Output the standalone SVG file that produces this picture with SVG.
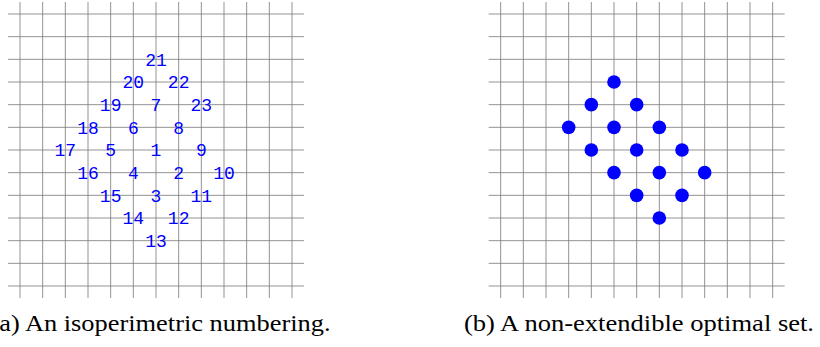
<svg xmlns="http://www.w3.org/2000/svg" width="820" height="347" viewBox="0 0 820 347">
<style>
.grid{stroke:#7f7f7f;stroke-width:0.85;fill:none}
.lbl{font-family:"Liberation Mono","DejaVu Sans Mono",monospace;font-size:18px;fill:#0000ff;text-anchor:middle}
.dot{fill:#0000ff}
.cap{font-family:"Liberation Serif","DejaVu Serif",serif;font-size:23px;fill:#000}
</style>
<rect width="820" height="347" fill="#fff"/>
<g id="grid-a" class="grid">
<path d="M20,2V298M42.67,2V298M65.33,2V298M88,2V298M110.67,2V298M133.33,2V298M156,2V298M178.67,2V298M201.33,2V298M224,2V298M246.67,2V298M269.33,2V298M292,2V298"/>
<path d="M8,14H304M8,36.67H304M8,59.33H304M8,82H304M8,104.67H304M8,127.33H304M8,150H304M8,172.67H304M8,195.33H304M8,218H304M8,240.67H304M8,263.33H304M8,286H304"/>
</g>
<g id="grid-b" class="grid">
<path d="M500.67,2V298M523.33,2V298M546,2V298M568.67,2V298M591.33,2V298M614,2V298M636.67,2V298M659.33,2V298M682,2V298M704.67,2V298M727.33,2V298M750,2V298M772.67,2V298"/>
<path d="M488.67,14H784.67M488.67,36.67H784.67M488.67,59.33H784.67M488.67,82H784.67M488.67,104.67H784.67M488.67,127.33H784.67M488.67,150H784.67M488.67,172.67H784.67M488.67,195.33H784.67M488.67,218H784.67M488.67,240.67H784.67M488.67,263.33H784.67M488.67,286H784.67"/>
</g>
<g id="connectors"></g>
<g id="labels-a">
<g id="n1"><text class="lbl" x="156" y="156.3">1</text></g>
<g id="n2"><text class="lbl" x="178.67" y="179">2</text></g>
<g id="n3"><text class="lbl" x="156" y="201.6">3</text></g>
<g id="n4"><text class="lbl" x="133.33" y="179">4</text></g>
<g id="n5"><text class="lbl" x="110.67" y="156.3">5</text></g>
<g id="n6"><text class="lbl" x="133.33" y="133.6">6</text></g>
<g id="n7"><text class="lbl" x="156" y="111">7</text></g>
<g id="n8"><text class="lbl" x="178.67" y="133.6">8</text></g>
<g id="n9"><text class="lbl" x="201.33" y="156.3">9</text></g>
<g id="n10"><text class="lbl" x="224" y="179">10</text></g>
<g id="n11"><text class="lbl" x="201.33" y="201.6">11</text></g>
<g id="n12"><text class="lbl" x="178.67" y="224.3">12</text></g>
<g id="n13"><text class="lbl" x="156" y="247">13</text></g>
<g id="n14"><text class="lbl" x="133.33" y="224.3">14</text></g>
<g id="n15"><text class="lbl" x="110.67" y="201.6">15</text></g>
<g id="n16"><text class="lbl" x="88" y="179">16</text></g>
<g id="n17"><text class="lbl" x="65.33" y="156.3">17</text></g>
<g id="n18"><text class="lbl" x="88" y="133.6">18</text></g>
<g id="n19"><text class="lbl" x="110.67" y="111">19</text></g>
<g id="n20"><text class="lbl" x="133.33" y="88.3">20</text></g>
<g id="n21"><text class="lbl" x="156" y="65.6">21</text></g>
<g id="n22"><text class="lbl" x="178.67" y="88.3">22</text></g>
<g id="n23"><text class="lbl" x="201.33" y="111">23</text></g>
</g>
<g id="dots-b">
<g id="d1"><circle class="dot" cx="614" cy="82" r="6.8"/></g>
<g id="d2"><circle class="dot" cx="591.33" cy="104.67" r="6.8"/></g>
<g id="d3"><circle class="dot" cx="636.67" cy="104.67" r="6.8"/></g>
<g id="d4"><circle class="dot" cx="568.67" cy="127.33" r="6.8"/></g>
<g id="d5"><circle class="dot" cx="614" cy="127.33" r="6.8"/></g>
<g id="d6"><circle class="dot" cx="659.33" cy="127.33" r="6.8"/></g>
<g id="d7"><circle class="dot" cx="591.33" cy="150" r="6.8"/></g>
<g id="d8"><circle class="dot" cx="636.67" cy="150" r="6.8"/></g>
<g id="d9"><circle class="dot" cx="682" cy="150" r="6.8"/></g>
<g id="d10"><circle class="dot" cx="614" cy="172.67" r="6.8"/></g>
<g id="d11"><circle class="dot" cx="659.33" cy="172.67" r="6.8"/></g>
<g id="d12"><circle class="dot" cx="704.67" cy="172.67" r="6.8"/></g>
<g id="d13"><circle class="dot" cx="636.67" cy="195.33" r="6.8"/></g>
<g id="d14"><circle class="dot" cx="682" cy="195.33" r="6.8"/></g>
<g id="d15"><circle class="dot" cx="659.33" cy="218" r="6.8"/></g>
</g>
<g id="captions">
<text class="cap" x="-9.5" y="331" textLength="340" lengthAdjust="spacingAndGlyphs">(a) An isoperimetric numbering.</text>
<text class="cap" x="464" y="331" textLength="350" lengthAdjust="spacingAndGlyphs">(b) A non-extendible optimal set.</text>
</g>
</svg>
